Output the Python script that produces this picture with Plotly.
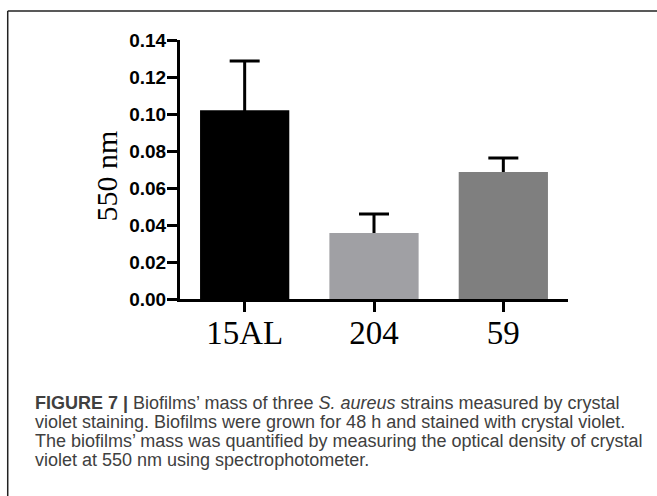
import plotly.graph_objects as go

categories = ["15AL", "204", "59"]
values = [0.102, 0.0357, 0.0686]
errors = [0.0266, 0.0102, 0.0076]
colors = ["#000000", "#a0a0a4", "#7f7f7f"]
ytick_vals = [0.0, 0.02, 0.04, 0.06, 0.08, 0.10, 0.12, 0.14]
ytick_text = ["0.00", "0.02", "0.04", "0.06", "0.08", "0.10", "0.12", "0.14"]
caption_lines = [
    "<b>FIGURE 7 |</b> Biofilms’ mass of three <i>S. aureus</i> strains measured by crystal",
    "violet staining. Biofilms were grown for 48 h and stained with crystal violet.",
    "The biofilms’ mass was quantified by measuring the optical density of crystal",
    "violet at 550 nm using spectrophotometer.",
]

W, H = 657, 496
L, R, T, B = 179.5, 568, 40, 299
pw, ph = R - L, B - T

def px_x(x):
    return (x - L) / pw

def px_y(y):
    return (B - y) / ph

fig = go.Figure()
# transparent bars carrying the error bars, drawn first so the real bars hide the lower half
fig.add_trace(go.Bar(
    x=categories, y=values,
    marker=dict(color="rgba(0,0,0,0)", line=dict(width=0)),
    width=0.69,
    error_y=dict(type="data", array=errors, symmetric=True,
                 color="#000000", thickness=3, width=15),
    hoverinfo="skip",
))
fig.add_trace(go.Bar(
    x=categories, y=values,
    marker=dict(color=colors, line=dict(width=0)),
    width=0.69,
))

fig.update_layout(
    width=W, height=H,
    barmode="overlay",
    margin=dict(l=L, r=W - R, t=T, b=H - B, pad=0),
    paper_bgcolor="white", plot_bgcolor="white",
    showlegend=False,
    xaxis=dict(range=[-0.5, 2.5], showgrid=False, zeroline=False,
               showline=True, linecolor="black", linewidth=3,
               ticks="outside", ticklen=10, tickwidth=3, tickcolor="black",
               ticklabelstandoff=-8,
               tickfont=dict(family="Liberation Serif, Times New Roman, serif", size=33, color="black")),
    yaxis=dict(range=[0, 0.14], showgrid=False, zeroline=False,
               showline=True, linecolor="black", linewidth=3,
               ticks="outside", ticklen=10, tickwidth=3, tickcolor="black",
               tickvals=ytick_vals, ticktext=ytick_text,
               ticklabelstandoff=-3,
               tickfont=dict(family="Liberation Sans, Arial, sans-serif", size=19, color="black", weight="bold")),
)

fig.add_annotation(text="550 nm", xref="paper", yref="paper",
                   x=px_x(105), y=px_y(176), textangle=-90, showarrow=False,
                   xanchor="center", yanchor="middle",
                   font=dict(family="Liberation Serif, Times New Roman, serif", size=30, color="black"))

line_ys = [403, 422, 441, 460]
for txt, yy in zip(caption_lines, line_ys):
    fig.add_annotation(text=txt, xref="paper", yref="paper",
                       x=px_x(32), y=px_y(yy), showarrow=False,
                       xanchor="left", yanchor="middle", align="left",
                       font=dict(family="Liberation Sans, Arial, sans-serif", size=18, color="#404040"))

# figure frame (top and left edges)
fig.add_shape(type="line", xref="paper", yref="paper",
              x0=px_x(7), x1=px_x(700), y0=px_y(11), y1=px_y(11),
              line=dict(color="#222222", width=1.5))
fig.add_shape(type="line", xref="paper", yref="paper",
              x0=px_x(7), x1=px_x(7), y0=px_y(11), y1=px_y(520),
              line=dict(color="#222222", width=1.5))

fig.write_html("out.html", config={"displayModeBar": False},
               post_script="document.body.style.margin='0';")
